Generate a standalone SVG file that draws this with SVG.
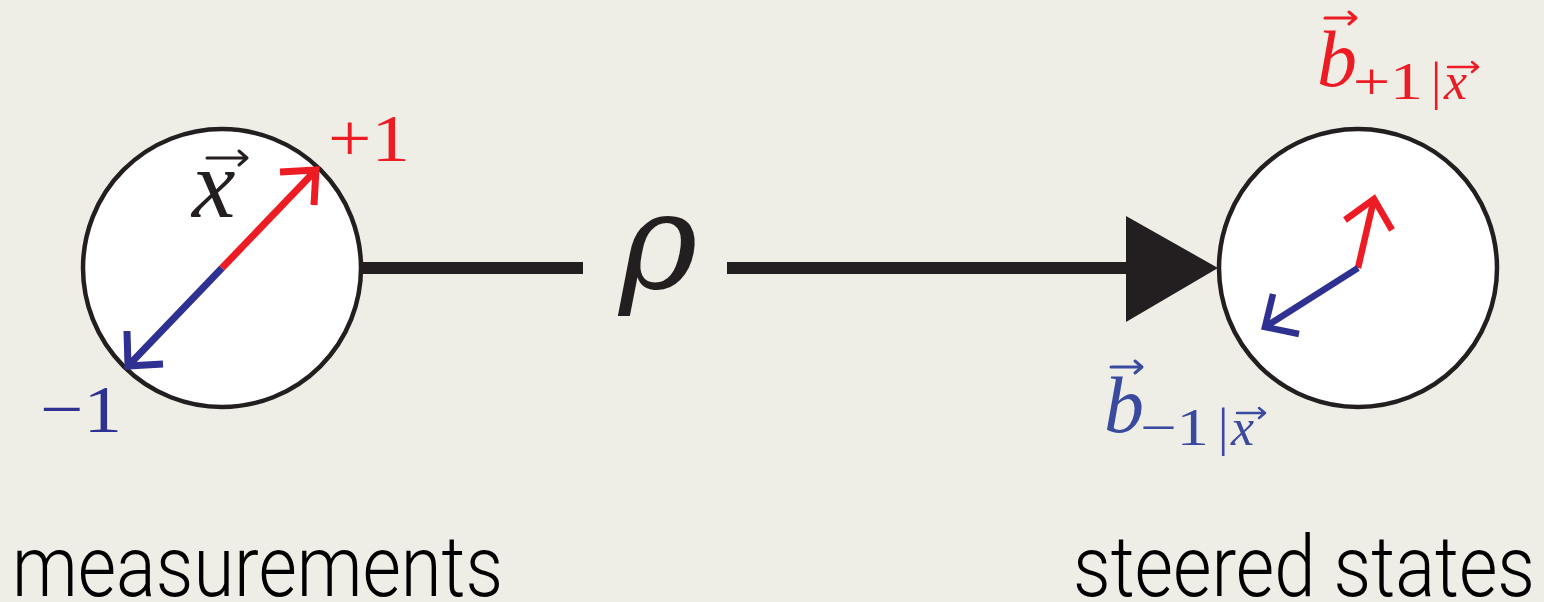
<svg xmlns="http://www.w3.org/2000/svg" width="1544" height="602" viewBox="0 0 1544 602">
<style>
.bg{fill:#efeee6}
.circ{fill:#ffffff;stroke:#231f20;stroke-width:4.5}
.red{stroke:#ed1c24;fill:none;stroke-width:7;stroke-linecap:butt;stroke-linejoin:miter}
.blue{stroke:#2e3192;fill:none;stroke-width:7;stroke-linecap:butt;stroke-linejoin:miter}
.conn{stroke:#231f20;stroke-width:12;fill:none}
.math{font-family:"Liberation Serif","Times New Roman",serif}
.it{font-style:italic}
.lab{font-family:Roboto,"Liberation Sans",Arial,sans-serif;font-weight:300;font-size:86px;fill:#000}
.vec{stroke-width:3;fill:none;stroke-linecap:round;stroke-linejoin:round}
</style>
<rect class="bg" x="0" y="0" width="1544" height="602"/>
<g id="connectors">
<line class="conn" x1="362" y1="268" x2="583" y2="268"/>
<line class="conn" x1="727" y1="268" x2="1132" y2="268"/>
<polygon points="1126,216 1126,322 1218,268" fill="#231f20"/>
</g>
<g id="rho-label">
<text x="619" y="288" font-family="'DejaVu Serif',serif" font-style="italic" font-size="134" fill="#231f20">ρ</text>
</g>
<g id="node-measurements">
<circle class="circ" cx="222" cy="268" r="139"/>
<path class="red" d="M222,268 L316,170"/>
<path class="red" d="M280,172 L316,170 L314,205"/>
<path class="blue" d="M222,268 L128,366"/>
<path class="blue" d="M127,331 L128,366 L163,364"/>
<text class="math" x="328" y="161" font-size="68" fill="#ed1c24" textLength="82" lengthAdjust="spacingAndGlyphs">+1</text>
<text class="math" x="40" y="432" font-size="68" fill="#2e3192" textLength="82" lengthAdjust="spacingAndGlyphs">−1</text>
<text class="math it" x="192" y="217" font-size="98" fill="#231f20">x</text>
<g stroke="#231f20" class="vec"><path d="M207,158 L247,158 M239,151 L247,158 L239,165"/></g>
<text class="lab" x="12" y="596" textLength="491" lengthAdjust="spacingAndGlyphs">measurements</text>
</g>
<g id="node-steered">
<circle class="circ" cx="1358" cy="268" r="139"/>
<path class="red" style="stroke-width:6.5" d="M1358,268 L1374,199"/>
<path class="red" style="stroke-width:6.5" d="M1345,220 L1374,199 L1392,230"/>
<path class="blue" style="stroke-width:6.5" d="M1358,268 L1265,327"/>
<path class="blue" style="stroke-width:6.5" d="M1273,294 L1265,327 L1299,334"/>
<g fill="#ed1c24">
<text class="math it" x="1317" y="86" font-size="80">b</text>
<text class="math" x="1353" y="99" font-size="52" textLength="70" lengthAdjust="spacingAndGlyphs">+1</text>
<text class="math" x="1431" y="99" font-size="52">|</text>
<text class="math it" x="1444" y="99" font-size="52">x</text>
</g>
<g stroke="#ed1c24" class="vec"><path d="M1325,18 L1356,18 M1349,12 L1356,18 L1349,24"/><path d="M1448,67 L1478,67 M1472,62 L1478,67 L1472,72" stroke-width="2.5"/></g>
<g fill="#3a4a9f">
<text class="math it" x="1104" y="432" font-size="80">b</text>
<text class="math" x="1140" y="445" font-size="52" textLength="69" lengthAdjust="spacingAndGlyphs">−1</text>
<text class="math" x="1218" y="445" font-size="52">|</text>
<text class="math it" x="1231" y="445" font-size="52">x</text>
</g>
<g stroke="#3a4a9f" class="vec"><path d="M1111,367 L1142,367 M1135,361 L1142,367 L1135,373"/><path d="M1237,413 L1265,413 M1259,408 L1265,413 L1259,418" stroke-width="2.5"/></g>
<text class="lab" x="1073" y="596" textLength="462" lengthAdjust="spacingAndGlyphs">steered states</text>
</g>
</svg>
